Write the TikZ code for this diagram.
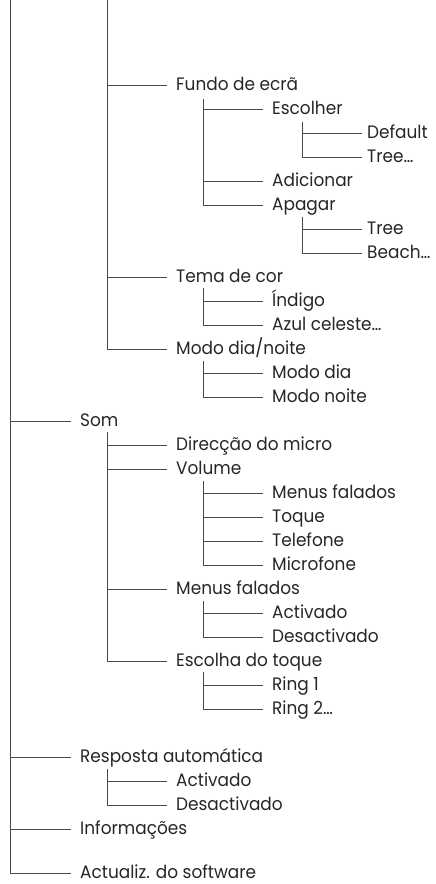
\documentclass[tikz,border=0pt]{standalone}
\usepackage{fontspec}
\setmainfont{Poppins}[FakeStretch=0.94]
\definecolor{ln}{HTML}{4A4A4A}
\definecolor{txt}{HTML}{262626}
\tikzset{
  x=1pt, y=-1pt,
  lbl/.style={anchor=base west, inner sep=0pt, yshift=-5.5pt, text=txt, font=\fontsize{18}{20}\selectfont},
  ln/.style={draw=ln, line width=0.9pt},
}
% \tb{vx}{ystart}{child}{gap}
\newcommand\tb[4]{\draw[ln] (#1,#2) |- ([shift={(-#4pt,5.5pt)}]#3.base west);}
\begin{document}
\begin{tikzpicture}
\useasboundingbox (0,0) rectangle (436,884);
\node[lbl] (fundo) at (176,85) {Fundo de ecrã};
\node[lbl] (escolher) at (272,109) {Escolher};
\node[lbl] (default) at (367,133) {Default};
\node[lbl] (treeA) at (367,157) {Tree…};
\node[lbl] (adicionar) at (272,181) {Adicionar};
\node[lbl] (apagar) at (272,205) {Apagar};
\node[lbl] (treeB) at (367,229) {Tree};
\node[lbl] (beach) at (367,253) {Beach…};
\node[lbl] (tema) at (176,277) {Tema de cor};
\node[lbl] (indigo) at (272,301) {Índigo};
\node[lbl] (azul) at (272,325) {Azul celeste…};
\node[lbl] (modo) at (176,349) {Modo dia/noite};
\node[lbl] (dia) at (272,373) {Modo dia};
\node[lbl] (noite) at (272,397) {Modo noite};
\node[lbl] (som) at (80,421) {Som};
\node[lbl] (direccao) at (176,445) {Direcção do micro};
\node[lbl] (volume) at (176,469) {Volume};
\node[lbl] (vmenus) at (272,493) {Menus falados};
\node[lbl] (toque) at (272,517) {Toque};
\node[lbl] (telefone) at (272,541) {Telefone};
\node[lbl] (microfone) at (272,565) {Microfone};
\node[lbl] (menus) at (176,589) {Menus falados};
\node[lbl] (mact) at (272,613) {Activado};
\node[lbl] (mdes) at (272,637) {Desactivado};
\node[lbl] (escolha) at (176,661) {Escolha do toque};
\node[lbl] (ring1) at (272,685) {Ring 1};
\node[lbl] (ring2) at (272,709) {Ring 2…};
\node[lbl] (resposta) at (80,757) {Resposta automática};
\node[lbl] (ract) at (176,781) {Activado};
\node[lbl] (rdes) at (176,805) {Desactivado};
\node[lbl] (info) at (80,829) {Informações};
\node[lbl] (actualiz) at (80,873) {Actualiz. do software};
% connectors
\foreach \c in {som,resposta,info,actualiz} {\tb{10}{0}{\c}{9}}
\foreach \c in {fundo,tema,modo} {\tb{107}{0}{\c}{9}}
\foreach \c in {escolher,adicionar,apagar} {\tb{203}{99}{\c}{9}}
\foreach \c in {default,treeA} {\tb{302}{122}{\c}{5}}
\foreach \c in {treeB,beach} {\tb{302}{217}{\c}{5}}
\foreach \c in {indigo,azul} {\tb{203}{288}{\c}{9}}
\foreach \c in {dia,noite} {\tb{203}{361}{\c}{9}}
\foreach \c in {direccao,volume,menus,escolha} {\tb{107}{432}{\c}{9}}
\foreach \c in {vmenus,toque,telefone,microfone} {\tb{203}{481}{\c}{9}}
\foreach \c in {mact,mdes} {\tb{203}{601}{\c}{9}}
\foreach \c in {ring1,ring2} {\tb{203}{672}{\c}{9}}
\foreach \c in {ract,rdes} {\tb{107}{769}{\c}{9}}
\end{tikzpicture}
\end{document}
